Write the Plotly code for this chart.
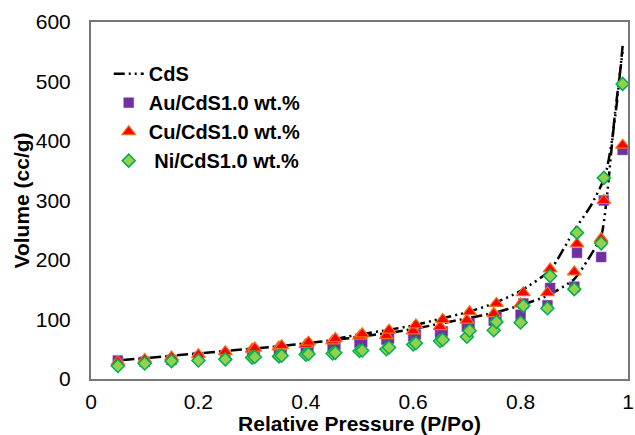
import plotly.graph_objects as go

# ---- data ----
cds_ads_x = [0.06, 0.10, 0.15, 0.20, 0.25, 0.30, 0.35, 0.40, 0.45, 0.50, 0.55, 0.60, 0.65, 0.70, 0.75, 0.80, 0.85, 0.90, 0.925, 0.95, 0.96, 0.975, 0.99]
cds_ads_y = [32, 35, 39, 43, 47, 51, 55, 60, 65, 71, 77, 84, 93, 102, 111, 124, 140, 168, 200, 240, 300, 440, 550]
cds_des_x = [0.99, 0.98, 0.97, 0.957, 0.93, 0.90, 0.855, 0.80, 0.75, 0.70, 0.65, 0.60, 0.55, 0.50, 0.45]
cds_des_y = [560, 470, 400, 340, 290, 250, 183, 148, 127, 112, 101, 90, 82, 75, 66]

ads_x = [0.05, 0.10, 0.15, 0.20, 0.25, 0.30, 0.35, 0.40, 0.45, 0.50, 0.55, 0.60, 0.65, 0.70, 0.75, 0.80, 0.85, 0.90, 0.95, 0.99]
des_x = [0.955, 0.905, 0.855, 0.805, 0.755, 0.705, 0.655, 0.605, 0.555, 0.505, 0.455, 0.405, 0.355, 0.305]

au_ads = [31, 29, 32, 37, 40, 44, 48, 50, 55, 61, 66, 72, 78, 88, 98, 108, 124, 155, 205, 385]
au_des = [300, 212, 153, 127, 105, 94, 80, 75, 68, 62, 57, 52, 49, 45]

cu_ads = [29, 33, 37, 41, 46, 50, 54, 58, 64, 72, 73, 81, 88, 99, 110, 126, 145, 180, 236, 393]
cu_des = [300, 227, 185, 145, 127, 113, 100, 91, 82, 76, 68, 62, 56, 52]

ni_ads = [22, 26, 30, 31, 33, 36, 38, 41, 43, 47, 50, 58, 64, 71, 82, 95, 119, 151, 228, 496]
ni_des = [338, 246, 173, 123, 96, 81, 66, 60, 53, 48, 44, 42, 39, 37]

x_ticks = [0, 0.2, 0.4, 0.6, 0.8, 1]
x_tick_labels = ["0", "0.2", "0.4", "0.6", "0.8", "1"]
y_ticks = [0, 100, 200, 300, 400, 500, 600]

FONT = "Liberation Sans, Arial, sans-serif"
DASH = "11px,4px,2px,4px,2px,4px"

fig = go.Figure()
fig.add_trace(go.Scatter(
    x=cds_ads_x + [None] + cds_des_x, y=cds_ads_y + [None] + cds_des_y,
    mode="lines", name="CdS", line=dict(color="black", width=2.5, dash=DASH, shape="spline", smoothing=0.6),
))
fig.add_trace(go.Scatter(
    x=ads_x + des_x, y=au_ads + au_des, mode="markers", name="Au/CdS1.0 wt.%",
    marker=dict(symbol="square", size=10, color="#7030A0", line=dict(color="#8a55b8", width=0.5)),
))
fig.add_trace(go.Scatter(
    x=ads_x + des_x, y=cu_ads + cu_des, mode="markers", name="Cu/CdS1.0 wt.%",
    marker=dict(symbol="triangle-up", size=12, color="#FF0000", line=dict(color="#F07020", width=1.2)),
))
fig.add_trace(go.Scatter(
    x=ads_x + des_x, y=ni_ads + ni_des, mode="markers", name=" Ni/CdS1.0 wt.%",
    marker=dict(symbol="diamond", size=10, color="#92D050", line=dict(color="#00B050", width=1.5)),
))

fig.update_layout(
    width=635, height=435,
    margin=dict(l=91, r=7, t=22, b=56),
    paper_bgcolor="white", plot_bgcolor="white",
    font=dict(family=FONT, size=21, color="black"),
    showlegend=True,
    legend=dict(x=0.033, y=0.91, xanchor="left", yanchor="top", bgcolor="rgba(0,0,0,0)",
                font=dict(family=FONT, size=20, color="black", weight="bold"),
                itemwidth=30, tracegroupgap=0),
    xaxis=dict(range=[0, 1], tickvals=x_ticks, ticktext=x_tick_labels, automargin=False,
               showgrid=False, zeroline=False, showline=True, linecolor="#777", linewidth=2, mirror=True,
               ticks="outside", ticklen=3, tickcolor="rgba(0,0,0,0)", tickfont=dict(size=21),
               title=dict(text="<b>Relative Pressure (P/Po)</b>", font=dict(size=21), standoff=2)),
    yaxis=dict(range=[0, 600], tickvals=y_ticks, showgrid=False, zeroline=False, showline=True, automargin=False,
               linecolor="#777", linewidth=2, mirror=True, ticks="outside", ticklen=14,
               tickcolor="rgba(0,0,0,0)", tickfont=dict(size=21),
               title=dict(text="<b>Volume (cc/g)</b>", font=dict(size=21), standoff=0)),
)

fig.write_html("out.html", config={"displayModeBar": False},
               post_script="document.body.style.margin='0';document.body.style.padding='0';")
